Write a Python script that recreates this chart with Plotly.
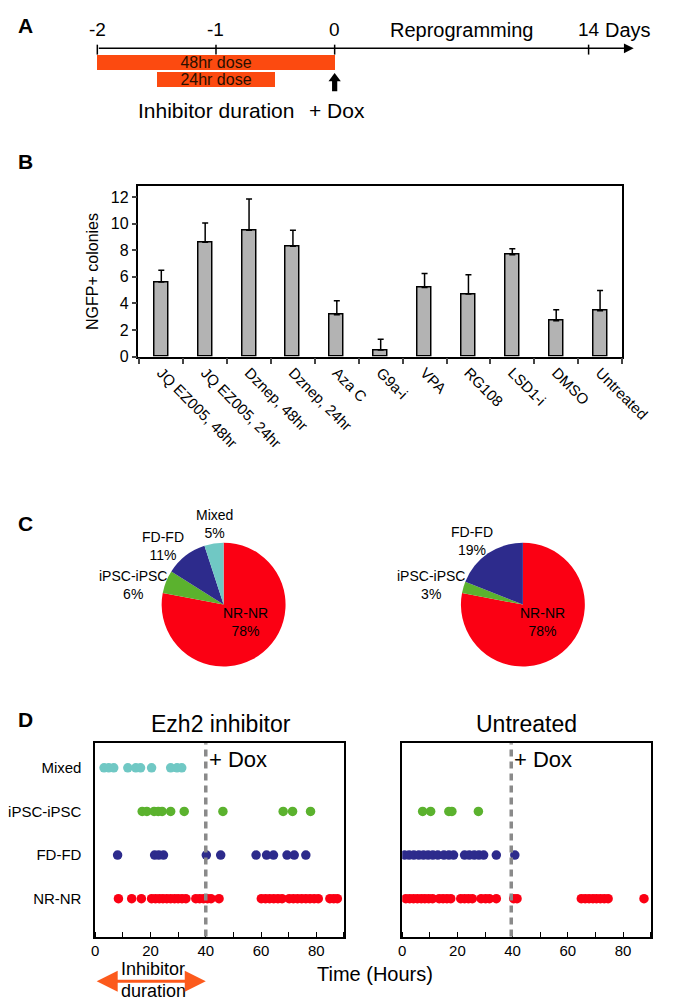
import plotly.graph_objects as go

FONT = "Liberation Sans, Arial, Helvetica, sans-serif"
W, H = 683, 1003

# ---------------- Panel A (schematic timeline) ----------------
timeline_days = ["-2", "-1", "0", "14"]
timeline_pos = [-2, -1, 0, 2.14]          # schematic position on the drawn line
dose_labels = ["48hr dose", "24hr dose"]
dose_start = [-2.0, -1.5]
dose_end = [0.0, -0.5]
dose_rows = [55, 72.5]

# ---------------- Panel B (bar chart) ----------------
treatments = ["JQ EZ005, 48hr", "JQ EZ005, 24hr", "Dznep, 48hr", "Dznep, 24hr",
              "Aza C", "G9a-i", "VPA", "RG108", "LSD1-i", "DMSO", "Untreated"]
colonies = [5.6, 8.6, 9.5, 8.3, 3.15, 0.5, 5.2, 4.7, 7.65, 2.7, 3.45]
colonies_err = [0.9, 1.45, 2.35, 1.2, 1.05, 0.8, 1.05, 1.45, 0.45, 0.82, 1.52]

# ---------------- Panel C (pies) ----------------
pie_labels_ezh2 = ["NR-NR", "iPSC-iPSC", "FD-FD", "Mixed"]
pie_values_ezh2 = [78, 6, 11, 5]
pie_labels_untr = ["NR-NR", "iPSC-iPSC", "FD-FD"]
pie_values_untr = [78, 3, 19]
class_colors = {"NR-NR": "#fb0013", "iPSC-iPSC": "#5bb22e", "FD-FD": "#2d2b8c", "Mixed": "#70c8c4"}

# ---------------- Panel D (division timing) ----------------
row_labels = ["NR-NR", "FD-FD", "iPSC-iPSC", "Mixed"]
row_values = [1, 2, 3, 4]
dox_time_ezh2 = 40
dox_time_untr = 39.5
time_ticks = [0, 20, 40, 60, 80]

ezh2_times = {
    "Mixed": [3.2, 4.9, 6.7, 11.8, 14.7, 16.4, 20.4, 27.3, 29.6, 31.3],
    "iPSC-iPSC": [17, 18.7, 21.3, 22.8, 24.2, 27.3, 32.2, 46.2, 68, 71.4, 77.9],
    "FD-FD": [8.1, 21.5, 23.0, 24.7, 40.2, 45.4, 58.2, 62, 64.5, 69.4, 72, 76.2],
    "NR-NR": [8.4, 13.2, 16.7, 20.4, 21.8, 23.2, 24.5, 25.9, 27.3, 28.7, 30, 31.4, 32.8,
              36.4, 37.8, 39.2, 40.6, 41.9, 44.8, 60.1, 61.6, 63.1, 64.6, 66.1, 67.6,
              70.2, 71.7, 73.2, 74.7, 76.2, 77.7, 79.2, 80.7, 84.9, 86.3, 87.6],
}
untr_times = {
    "Mixed": [],
    "iPSC-iPSC": [7.4, 10.3, 16.9, 18, 27.6],
    "FD-FD": [0.8, 2.5, 4.2, 6, 7.7, 9.4, 11.1, 12.9, 15.1, 16.9, 18.6, 22.6, 24.3,
              26.1, 27.8, 29.5, 34.1, 40.8],
    "NR-NR": [1.3, 2.7, 4.1, 5.5, 6.9, 8.2, 9.6, 11, 13.4, 14.8, 16.2, 17.6, 21.2, 22.6,
              24, 25.4, 28.6, 30.2, 31.6, 34.1, 40.4, 41.6, 64.9, 66.3, 67.7, 69.1, 70.4,
              71.8, 73.2, 74.6, 87.6],
}


def px(x):
    return x / W


def py(y):
    return 1 - y / H


def text_ann(text, x, y, size, xref="paper", yref="paper", **kw):
    d = dict(text=text, x=px(x) if xref == "paper" else x, y=py(y) if yref == "paper" else y,
             xref=xref, yref=yref, showarrow=False, xanchor="center", yanchor="middle",
             font=dict(family=FONT, size=size, color="black"))
    d.update(kw)
    return d


fig = go.Figure()

# ---- Panel B bars ----
fig.add_trace(go.Bar(
    x=treatments, y=colonies, width=0.32,
    marker=dict(color="#b3b3b3", line=dict(color="black", width=1.5)),
    error_y=dict(type="data", array=colonies_err, arrayminus=[0] * len(colonies),
                 symmetric=False, color="black", thickness=1.5, width=3),
    xaxis="x", yaxis="y", showlegend=False,
))

# ---- Panel C pies ----
fig.add_trace(go.Pie(
    labels=pie_labels_ezh2, values=pie_values_ezh2, sort=False, direction="clockwise",
    marker=dict(colors=[class_colors[l] for l in pie_labels_ezh2], line=dict(width=0)),
    textinfo="none", hoverinfo="label+percent", showlegend=False,
    domain=dict(x=[px(157), px(287)], y=[py(667), py(537)]),
))
fig.add_trace(go.Pie(
    labels=pie_labels_untr, values=pie_values_untr, sort=False, direction="clockwise",
    marker=dict(colors=[class_colors[l] for l in pie_labels_untr], line=dict(width=0)),
    textinfo="none", hoverinfo="label+percent", showlegend=False,
    domain=dict(x=[px(471), px(601)], y=[py(667), py(537)]),
))

# ---- Panel D scatters ----
for times, xa, ya in [(ezh2_times, "x2", "y2"), (untr_times, "x3", "y3")]:
    for lab, val in zip(row_labels, row_values):
        t = times[lab]
        if not t:
            continue
        fig.add_trace(go.Scatter(
            x=t, y=[val] * len(t), mode="markers",
            marker=dict(color=class_colors[lab], size=9.5, line=dict(width=0)),
            xaxis=xa, yaxis=ya, showlegend=False,
        ))

# ---- Panel A dose bars ----
fig.add_trace(go.Bar(
    y=dose_rows, x=[e - s for s, e in zip(dose_start, dose_end)], base=dose_start,
    orientation="h", width=15, text=dose_labels, textposition="inside",
    insidetextanchor="middle", constraintext="none",
    textfont=dict(family=FONT, size=16, color="#2a1000"),
    marker=dict(color="#fc4a10", line=dict(width=0)),
    xaxis="x4", yaxis="y4", showlegend=False,
))

line_common = dict(showline=True, linecolor="black", linewidth=1.5, mirror=True,
                   showgrid=False, zeroline=False)
tickfont16 = dict(family=FONT, size=16, color="black")
time_axis = dict(range=[0, 90], tickvals=time_ticks, ticks="",
                 minor=dict(dtick=10, tick0=0, ticks="inside", ticklen=5, tickwidth=1.2,
                            tickcolor="black"),
                 tickfont=dict(family=FONT, size=15, color="black"), **line_common)

layout = dict(
    width=W, height=H, margin=dict(l=0, r=0, t=0, b=0),
    paper_bgcolor="white", plot_bgcolor="white",
    font=dict(family=FONT, color="black"),
    bargap=0,
    xaxis=dict(domain=[px(132.7), px(640)], type="category", range=[-0.52, 10.5],
               tickson="boundaries", ticks="outside", ticklen=6, tickwidth=1.5,
               tickangle=45, anchor="y", tickfont=dict(family=FONT, size=15, color="black"),
               **line_common),
    yaxis=dict(domain=[py(351.7), py(180)], range=[0, 12.8], tickvals=[0, 2, 4, 6, 8, 10, 12],
               ticks="outside", ticklen=5, tickwidth=1.5, anchor="x",
               title=dict(text="NGFP+ colonies", font=dict(family=FONT, size=16), standoff=8),
               tickfont=tickfont16, **line_common),
    xaxis2=dict(domain=[px(87.3), px(348.3)], anchor="y2", **time_axis),
    yaxis2=dict(domain=[py(937), py(742)], range=[0.13, 4.56], tickvals=row_values,
                ticktext=row_labels, ticks="", ticklabelstandoff=9, anchor="x2",
                tickfont=dict(family=FONT, size=15, color="black"), **line_common),
    xaxis3=dict(domain=[px(409.4), px(670)], anchor="y3", **time_axis),
    yaxis3=dict(domain=[py(937), py(742)], range=[0.13, 4.56], tickvals=row_values,
                showticklabels=False, ticks="", anchor="x3", **line_common),
    xaxis4=dict(domain=[0, 1], range=[-2.719, 2.767], visible=False, anchor="y4"),
    yaxis4=dict(domain=[py(115), 1], range=[115, 0], visible=False, anchor="x4"),
)
fig.update_layout(**layout)

shapes = []
annotations = []

# Panel letters
for letter, (lx, ly) in {"A": (14, 18), "B": (14, 155), "C": (14, 520), "D": (14, 718)}.items():
    annotations.append(text_ann("<b>%s</b>" % letter, lx, ly, 21))

# Panel A: timeline arrow, ticks and labels
annotations.append(dict(x=2.52, y=40.7, ax=-2, ay=40.7, xref="x4", yref="y4", axref="x4",
                        ayref="y4", text="", showarrow=True, arrowhead=2, arrowsize=1.3,
                        arrowwidth=1.5, arrowcolor="black", standoff=0, startstandoff=0))
for lab, pos in zip(timeline_days, timeline_pos):
    shapes.append(dict(type="line", xref="x4", yref="y4", x0=pos, x1=pos, y0=37, y1=47,
                       line=dict(color="black", width=1.5)))
    annotations.append(text_ann(lab, pos, 22, 19, xref="x4", yref="y4"))
annotations.append(text_ann("Reprogramming", 1.07, 22, 20, xref="x4", yref="y4"))
annotations.append(text_ann("Days", 2.47, 22, 20, xref="x4", yref="y4"))
# thick up arrow at +Dox
shapes.append(dict(type="rect", xref="x4", yref="y4", x0=-0.022, x1=0.022, y0=73, y1=84,
                   fillcolor="black", line=dict(width=0)))
shapes.append(dict(type="path", xref="x4", yref="y4", path="M -0.052 74 L 0.052 74 L 0 65.5 Z",
                   fillcolor="black", line=dict(width=0)))
annotations.append(text_ann("Inhibitor duration", -1.0, 103, 21, xref="x4", yref="y4"))
annotations.append(text_ann("+ Dox", 0.02, 103, 21, xref="x4", yref="y4"))

# Panel C labels
pie_text = [
    ("Mixed<br>5%", 212, 521), ("FD-FD<br>11%", 158, 543), ("iPSC-iPSC<br>6%", 127, 582),
    ("NR-NR<br>78%", 245, 620),
    ("FD-FD<br>19%", 483, 538), ("iPSC-iPSC<br>3%", 440, 582), ("NR-NR<br>78%", 557, 620),
]
for t, xx, yy in pie_text:
    annotations.append(text_ann(t, xx, yy, 14))

# Panel D extras
for xa, ya, dox, title, cx in [("x2", "y2", dox_time_ezh2, "Ezh2 inhibitor", 219),
                               ("x3", "y3", dox_time_untr, "Untreated", 540)]:
    shapes.append(dict(type="line", xref=xa, yref=ya + " domain", x0=dox, x1=dox, y0=0, y1=1,
                       line=dict(color="#8a8a8a", width=3.5, dash="7px,5px")))
    annotations.append(dict(text="+ Dox", x=dox, y=0.99, xref=xa, yref=ya + " domain",
                            xanchor="left", yanchor="top", xshift=1, showarrow=False,
                            font=dict(family=FONT, size=22, color="black")))
    annotations.append(text_ann(title, cx, 722, 23))

annotations.append(text_ann("Time (Hours)", 381, 975, 20))
annotations.append(text_ann("Inhibitor", 148, 970, 18))
annotations.append(text_ann("duration", 148, 992, 18))
annotations.append(dict(x=40, y=py(982), ax=0, ay=0, xref="x2", yref="paper",
                        axref="x2", ayref="pixel", text="", showarrow=True, arrowhead=2,
                        startarrowhead=2, arrowside="end+start", arrowsize=1.4,
                        startarrowsize=1.4, arrowwidth=3, arrowcolor="#fc5a1c",
                        standoff=0, startstandoff=0))

fig.update_layout(shapes=shapes, annotations=annotations)
fig.write_html("out.html")
